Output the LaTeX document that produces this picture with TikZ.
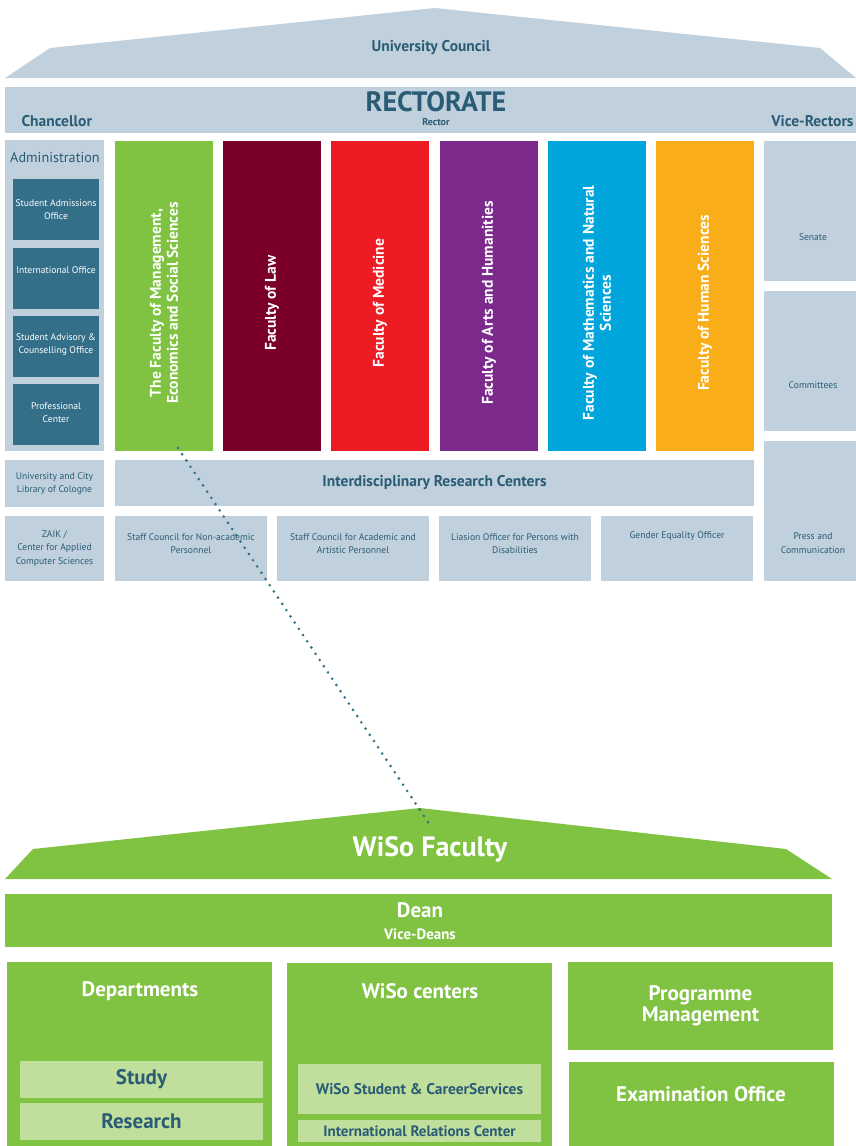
\documentclass[tikz,border=0pt]{standalone}
\usepackage{fontspec}
\setmainfont{PT Sans}
\usetikzlibrary{positioning,calc}
\definecolor{uniGrey}{HTML}{C0D0DC}
\definecolor{uniText}{HTML}{2A5C76}
\definecolor{adminTeal}{HTML}{346F8A}
\definecolor{wisoGreen}{HTML}{80C241}
\definecolor{paleGreen}{HTML}{C0DE9C}
\definecolor{lawRed}{HTML}{7B0029}
\definecolor{medRed}{HTML}{ED1C24}
\definecolor{artsPurple}{HTML}{7D2A8D}
\definecolor{mathBlue}{HTML}{00A5DC}
\definecolor{humOrange}{HTML}{F9AE19}
\tikzset{
  cell/.style={anchor=north west,inner sep=0pt,outer sep=0pt},
  greycell/.style={cell,fill=uniGrey},
  tealcell/.style={cell,fill=adminTeal},
  greencell/.style={cell,fill=wisoGreen},
  palecell/.style={cell,fill=paleGreen},
  facultycell/.style={cell,minimum width=98pt,minimum height=310pt},
  head/.style={font=\bfseries\fontsize{15.5}{17}\selectfont,text=uniText},
  tiny/.style={font=\fontsize{9.6}{13.5}\selectfont,text=uniText,align=center},
  tinywhite/.style={tiny,text=white},
  vertical/.style={rotate=90,font=\bfseries\fontsize{15.5}{17}\selectfont,text=white,align=center},
  whitehead/.style={font=\bfseries\fontsize{21}{21}\selectfont,text=white,align=center},
  darkhead/.style={font=\bfseries\fontsize{21}{22}\selectfont,text=uniText}
}

\begin{document}
\begin{tikzpicture}[x=1pt,y=-1pt]
\useasboundingbox (0,0) rectangle (856,1146);
% university level
\fill[uniGrey] (5,78) -- (50,48) -- (435,8) -- (820,48) -- (856,78) -- cycle;
\node[head] (council) at (431,48) {University Council};
\node[greycell,minimum width=851pt,minimum height=46pt] (rectorate) at (5,87) {};
\node[font=\bfseries\fontsize{28}{30}\selectfont,text=uniText] (rectorT) at (436,102) {RECTORATE};
\node[tiny,font=\bfseries\fontsize{10}{11}\selectfont] (rector) at (436,122) {Rector};
\node[head,anchor=west] (chancellor) at (18,121) {Chancellor};
\node[head,anchor=east] (vicerectors) at (857,121) {Vice-Rectors};

% administration
\node[greycell,minimum width=99pt,minimum height=311pt] (admin) at (5,140) {};
\node[font=\fontsize{14.2}{16}\selectfont,text=uniText] (adminT) at (55,158) {Administration};
\node[tealcell,minimum width=86pt,minimum height=61pt] (admissions) at (13,179) {};
\node[tinywhite] at (admissions.center) {Student Admissions\\Office};
\node[tealcell,minimum width=86pt,minimum height=61pt] (intoffice) at (13,248) {};
\node[tinywhite] at ([yshift=8pt]intoffice.center) {International Office};
\node[tealcell,minimum width=86pt,minimum height=61pt] (advisory) at (13,316) {};
\node[tinywhite] at ([yshift=2pt]advisory.center) {Student Advisory \&\\Counselling Office};
\node[tealcell,minimum width=86pt,minimum height=61pt] (professional) at (13,384) {};
\node[tinywhite] at ([yshift=2pt]professional.center) {Professional\\Center};

% faculties
\node[facultycell,fill=wisoGreen] (wiso) at (115,141) {};
\node[vertical] at ([yshift=-7pt]wiso.center) {The Faculty of Management,\\Economics and Social Sciences};
\node[facultycell,fill=lawRed] (law) at (223,141) {};
\node[vertical] at ([yshift=-7pt]law.center) {Faculty of Law};
\node[facultycell,fill=medRed] (medicine) at (331,141) {};
\node[vertical] at ([yshift=-7pt]medicine.center) {Faculty of Medicine};
\node[facultycell,fill=artsPurple] (arts) at (440,141) {};
\node[vertical] at ([yshift=-7pt]arts.center) {Faculty of Arts and Humanities};
\node[facultycell,fill=mathBlue] (maths) at (548,141) {};
\node[vertical] at ([yshift=-7pt]maths.center) {Faculty of Mathematics and Natural\\Sciences};
\node[facultycell,fill=humOrange] (human) at (656,141) {};
\node[vertical] at ([yshift=-7pt]human.center) {Faculty of Human Sciences};

% right column
\node[greycell,minimum width=92pt,minimum height=140pt] (senate) at (764,141) {};
\node[tiny] at ([yshift=-26pt,xshift=3pt]senate.center) {Senate};
\node[greycell,minimum width=92pt,minimum height=140pt] (committees) at (764,291) {};
\node[tiny] at ([yshift=-24pt,xshift=3pt]committees.center) {Committees};
\node[greycell,minimum width=92pt,minimum height=140pt] (press) at (764,441) {};
\node[tiny] at ([yshift=-32pt,xshift=3pt]press.center) {Press and\\Communication};

% lower rows
\node[greycell,minimum width=99pt,minimum height=47pt] (library) at (5,460) {};
\node[tiny] at (library.center) {University and City\\Library of Cologne};
\node[greycell,minimum width=639pt,minimum height=46pt] (research) at (115,460) {};
\node[head] at (research.center) {Interdisciplinary Research Centers};
\node[greycell,minimum width=99pt,minimum height=65pt] (zaik) at (5,516) {};
\node[tiny] at (zaik.center) {ZAIK /\\Center for Applied\\Computer Sciences};
\node[greycell,minimum width=152pt,minimum height=65pt] (staffnon) at (115,516) {};
\node[tiny] at ([yshift=5pt]staffnon.center) {Staff Council for Non-academic\\Personnel};
\node[greycell,minimum width=152pt,minimum height=65pt] (staffacad) at (277,516) {};
\node[tiny] at ([yshift=5pt]staffacad.center) {Staff Council for Academic and\\Artistic Personnel};
\node[greycell,minimum width=152pt,minimum height=65pt] (liaison) at (439,516) {};
\node[tiny] at ([yshift=5pt]liaison.center) {Liasion Officer for Persons with\\Disabilities};
\node[greycell,minimum width=152pt,minimum height=65pt] (gender) at (601,516) {};
\node[tiny] at ([yshift=12pt]gender.center) {Gender Equality Officer};

% wiso faculty
\fill[wisoGreen] (5,879) -- (33,849) -- (420,808) -- (786,849) -- (832,879) -- cycle;
\coordinate (wisotop) at (432,828);
\node[font=\bfseries\fontsize{28}{30}\selectfont,text=white] (wisoT) at (430,849) {WiSo Faculty};
\node[greencell,minimum width=827pt,minimum height=53pt] (dean) at (5,894) {};
\node[whitehead] (deanT) at (420,910) {Dean};
\node[font=\bfseries\fontsize{15}{16}\selectfont,text=white] (vicedeans) at (420,934) {Vice-Deans};

\node[greencell,minimum width=265pt,minimum height=190pt] (departments) at (7,962) {};
\node[whitehead] at (140,991) {Departments};
\node[palecell,minimum width=243pt,minimum height=37pt] (study) at (20,1061) {};
\node[darkhead] at (study.center) {Study};
\node[palecell,minimum width=243pt,minimum height=37pt] (research2) at (20,1103) {};
\node[darkhead] at (research2.center) {Research};

\node[greencell,minimum width=265pt,minimum height=190pt] (centers) at (287,963) {};
\node[whitehead] at (420,991) {WiSo centers};
\node[palecell,minimum width=243pt,minimum height=50pt] (careers) at (298,1064) {};
\node[head] at (careers.center) {WiSo Student \& CareerServices};
\node[palecell,minimum width=243pt,minimum height=22pt] (relations) at (298,1120) {};
\node[head,font=\bfseries\fontsize{15}{16}\selectfont] at (relations.center) {International Relations Center};

\node[greencell,minimum width=265pt,minimum height=88pt] (programme) at (568,962) {};
\node[whitehead,font=\bfseries\fontsize{21}{21}\selectfont] at ([yshift=0pt]programme.center) {Programme\\Management};
\node[greencell,minimum width=265pt,minimum height=90pt] (exams) at (569,1062) {};
\node[whitehead] at (701,1094) {Examination Office};

% link from faculty column to wiso faculty
\coordinate (wisofoot) at (178,448);
\draw[adminTeal,line width=2.9pt,line cap=round,dash pattern=on 0pt off 7.5pt] (wisofoot) -- (wisotop);
\end{tikzpicture}
\end{document}
